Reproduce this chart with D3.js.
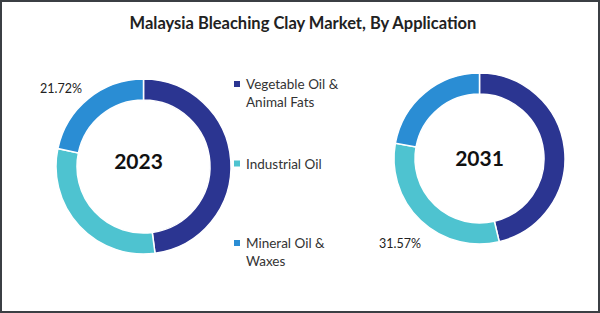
<!DOCTYPE html>
<html lang="en">
<head>
<meta charset="UTF-8">
<title>Malaysia Bleaching Clay Market, By Application</title>
<script src="https://d3js.org/d3.v7.min.js"></script>
<style>
  body { margin: 0; background: #fff; }
  svg { display: block; font-family: Lato, 'Open Sans', sans-serif; }
</style>
</head>
<body>
<svg width="600" height="313"></svg>
<script>
  // data
  const categories = ["Vegetable Oil & Animal Fats", "Industrial Oil", "Mineral Oil & Waxes"];
  const legendLines = [["Vegetable Oil &", "Animal Fats"], ["Industrial Oil"], ["Mineral Oil &", "Waxes"]];
  const colors = ["#2b3591", "#4ec3d0", "#2a8dd4"];
  const years = ["2023", "2031"];
  const share2023 = [47.9, 30.38, 21.72];
  const share2031 = [46.3, 31.57, 22.13];
  const shownLabel = [2, 1]; // which slice shows its % label per donut

  const svg = d3.select("svg");

  // frame
  svg.append("rect")
     .attr("x", 1).attr("y", 1).attr("width", 598).attr("height", 311)
     .attr("fill", "#fff").attr("stroke", "#3b3f44").attr("stroke-width", 2);

  svg.append("text")
     .attr("x", 303).attr("y", 29)
     .attr("text-anchor", "middle")
     .style("font-size", "16.5px").style("font-weight", "bold").style("fill", "#222")
     .text("Malaysia Bleaching Clay Market, By Application");

  const donuts = [
    { year: years[0], values: share2023, cx: 143.5, cy: 166.5, r: 87.5, tdx: -5, tdy: -6,
      lx: 82, ly: 93 },
    { year: years[1], values: share2031, cx: 479.5, cy: 158.5, r: 85.5, tdx: 0, tdy: -1,
      lx: 421, ly: 248 }
  ];

  const pie = d3.pie().sort(null).value(d => d);

  donuts.forEach((dn, i) => {
    const g = svg.append("g").attr("transform", `translate(${dn.cx},${dn.cy})`);
    const arc = d3.arc().innerRadius(dn.r - 21).outerRadius(dn.r);
    g.selectAll("path")
     .data(pie(dn.values))
     .join("path")
     .attr("d", arc)
     .attr("fill", (d, j) => colors[j])
     .attr("stroke", "#fff")
     .attr("stroke-width", 1.5);

    g.append("text")
     .attr("x", dn.tdx).attr("y", dn.tdy)
     .attr("text-anchor", "middle").attr("dominant-baseline", "central")
     .style("font-size", "21px").style("font-weight", "bold").style("fill", "#111")
     .text(dn.year);

    const v = dn.values[shownLabel[i]];
    svg.append("text")
       .attr("x", dn.lx).attr("y", dn.ly)
       .attr("text-anchor", "end")
       .style("font-size", "12.5px").style("fill", "#222")
       .text(v.toFixed(2) + "%");
  });

  // legend
  const ly = d3.scalePoint().domain(categories).range([84, 243]);
  const legend = svg.append("g");
  categories.forEach((c, i) => {
    legend.append("rect")
          .attr("x", 234).attr("y", ly(c) - 3).attr("width", 6).attr("height", 6)
          .attr("fill", colors[i]);
    legendLines[i].forEach((line, k) => {
      legend.append("text")
            .attr("x", 246).attr("y", ly(c) + 5 + k * 18)
            .style("font-size", "13.5px").style("fill", "#333")
            .text(line);
    });
  });
</script>
</body>
</html>
